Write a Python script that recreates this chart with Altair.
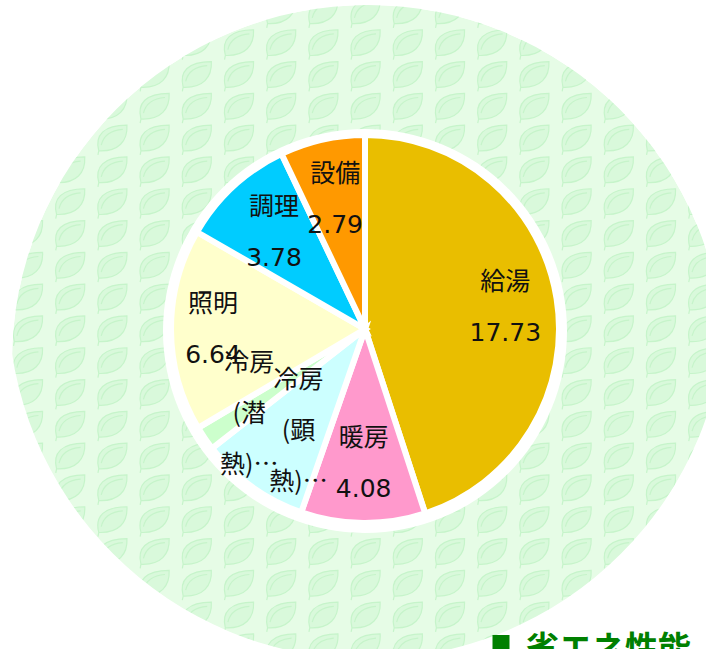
import altair as alt
import pandas as pd
import numpy as np

# ---- data -------------------------------------------------------------
categories = ["給湯", "暖房", "冷房(顕熱)", "冷房(潜熱)", "照明", "調理", "設備"]
values = [17.73, 4.08, 3.60, 0.80, 6.64, 3.78, 2.79]
colors = ["#E9BE00", "#FF99CC", "#CCFFFF", "#CCFFCC", "#FFFFCC", "#00CCFF", "#FF9900"]
label_texts = ["給湯\n17.73", "暖房\n4.08", "冷房\n(顕\n熱)…", "冷房\n(潜\n熱)…",
               "照明\n6.64", "調理\n3.78", "設備\n2.79"]
section_title = "省エネ性能"

# ---- layout constants ---------------------------------------------------
W, H = 706, 649
CX, CY = 365, 329          # pie centre
R = 194                    # pie radius
LH = 51                    # label line height
FONT_NUM = "DejaVu Sans, Noto Sans CJK JP"
FONT_JP = "Noto Sans CJK JP, DejaVu Sans"
BG_GREEN = "#E6FCE6"
LEAF_FILL = "#D9F9DB"
LEAF_STROKE = "#C6F4CA"

# label nudges (dx, dy) per slice, applied on top of block centring
nudge = {"給湯": (2, 0), "暖房": (0, -5), "冷房(顕熱)": (15, -12), "冷房(潜熱)": (0, 6),
         "照明": (-12, 0), "調理": (4, 6), "設備": (1, 7)}

df = pd.DataFrame({"cat": categories, "value": values,
                   "ord": list(range(len(categories))), "label": label_texts})
one = pd.DataFrame({"k": [0]})
TAU = 2 * np.pi

# decorative leaf pattern (background texture)
gx, gy = np.meshgrid(280 + 42.2 * np.arange(-7, 12), 43 + 31.8 * np.arange(-2, 20))
leaves = pd.DataFrame({"px": gx.ravel(), "py": gy.ravel()})
leaf_path = ("M -0.75 0.75 C -1.0 -0.2 -0.45 -0.8 0.95 -0.8 C 1.0 0.15 0.45 0.8 -0.75 0.75 Z "
             "M -0.75 0.75 L -0.8 1.0 "
             "M -0.6 0.4 C -0.45 -0.25 0.05 -0.5 0.7 -0.55")


def disc(cx, cy, r_out, color, r_in=0):
    return alt.Chart(one).mark_arc(theta=0, theta2=TAU, innerRadius=r_in, outerRadius=r_out,
                                   color=color, strokeWidth=0).encode(
        x=alt.value(cx), y=alt.value(cy))


bg = disc(368, 361, 356, BG_GREEN)
leaf_layer = alt.Chart(leaves).mark_point(shape=leaf_path, size=1100, filled=True,
                                          fill=LEAF_FILL, stroke=LEAF_STROKE,
                                          strokeWidth=1.2, opacity=1).encode(
    x=alt.X("px:Q", scale=None), y=alt.Y("py:Q", scale=None))
clip_a = disc(368, 361, 600, "white", r_in=356)
clip_b = disc(367, 300, 600, "white", r_in=359)
ring = disc(CX, 331, 202, "white")

pie = alt.Chart(df).mark_arc(outerRadius=R, stroke="white", strokeWidth=6).encode(
    theta=alt.Theta("value:Q", stack=True),
    order=alt.Order("ord:Q"),
    color=alt.Color("cat:N", scale=alt.Scale(domain=categories, range=colors), legend=None),
    x=alt.value(CX), y=alt.value(CY),
)


def label_layer(cat, text):
    n_lines = text.count("\n") + 1
    dx, dy = nudge[cat]
    font = FONT_JP if "…" in text else FONT_NUM
    return alt.Chart(df).mark_text(
        radius=140, fontSize=25, lineBreak="\n", lineHeight=LH, font=font,
        color="#111111", align="center", baseline="middle",
        dx=dx, dy=dy - (n_lines - 1) * LH / 2,
    ).encode(
        theta=alt.Theta("value:Q", stack=True),
        order=alt.Order("ord:Q"),
        detail="cat:N",
        text="label:N",
        opacity=alt.condition(alt.datum.cat == cat, alt.value(1), alt.value(0)),
        x=alt.value(CX), y=alt.value(CY),
    )


label_layers = [label_layer(c, t) for c, t in zip(categories, label_texts)]

square = alt.Chart(one).mark_square(size=289, color="#008000", opacity=1).encode(
    x=alt.value(501), y=alt.value(643.5))
title = alt.Chart(pd.DataFrame({"t": [section_title]})).mark_text(
    fontSize=33, fontWeight="bold", font="Noto Sans CJK JP", color="#008000",
    align="left", baseline="alphabetic").encode(
    x=alt.value(526), y=alt.value(660), text="t:N")

chart = alt.layer(bg, leaf_layer, clip_a, clip_b, ring, pie, *label_layers, square, title).properties(
    width=W, height=H, padding=0, autosize="none", background="white"
).configure_view(stroke=None)

chart.save("out.html", embed_options={"renderer": "svg", "actions": False})
